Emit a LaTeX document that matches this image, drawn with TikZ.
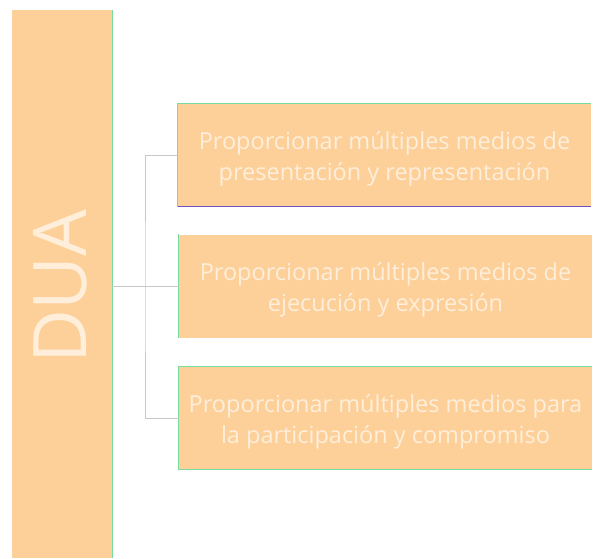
\documentclass[tikz,border=0pt]{standalone}
\usepackage{fontspec}
\setmainfont{Open Sans}
\definecolor{boxfill}{RGB}{253,208,154}
\definecolor{boxtext}{RGB}{254,238,218}
\definecolor{edgegreen}{RGB}{120,220,160}
\definecolor{edgepurple}{RGB}{110,80,200}
\definecolor{conn}{RGB}{200,200,200}
\tikzset{
  leaf/.style={draw=none, fill=boxfill, minimum width=413pt, minimum height=103pt, inner sep=0pt},
  leaftext/.style={inner sep=0pt, align=center, text=boxtext, font=\fontsize{23.5}{31}\selectfont},
  connline/.style={draw=conn, line width=1pt},
}
\begin{document}
\begin{tikzpicture}[x=1pt,y=-1pt]
\useasboundingbox (0,0) rectangle (594,558);
% DUA bar
\node[fill=boxfill, minimum width=100pt, minimum height=548pt, inner sep=0pt, anchor=north west] (dua) at (12,10) {};
\node[rotate=90, text=boxtext, font=\fontsize{74}{74}\selectfont] (duat) at (60,287) {DUA};
\draw[edgegreen, line width=1.3pt] (dua.north east) -- (dua.south east);
% leaves
\node[leaf] (b1) at (384.5,155) {};
\node[leaf] (b2) at (385.5,286) {};
\node[leaf] (b3) at (385.5,418) {};
\node[leaftext] (t1) at ([yshift=-4pt]b1.center) {Proporcionar múltiples medios de\\presentación y representación};
\node[leaftext] (t2) at ([yshift=-4pt]b2.center) {Proporcionar múltiples medios de\\ejecución y expresión};
\node[leaftext] (t3) at ([yshift=-4pt]b3.center) {Proporcionar múltiples medios para\\la participación y compromiso};
\draw[edgegreen, line width=1pt] (b1.south west) -- (b1.north west) -- (b1.north east);
\draw[edgepurple, line width=1.2pt] (b1.south west) -- (b1.south east);
\draw[edgegreen, line width=1pt] (b2.south west) -- (b2.north west);
\draw[edgegreen, line width=1pt] (b3.south east) -- (b3.south west) -- (b3.north west) -- (b3.north east);
% connectors
\coordinate (jn) at (145,286);
\draw[connline] (dua.east |- b2.west) -- (b2.west);
\draw[connline] (b1.west) -| (jn) |- (b3.west);
\end{tikzpicture}
\end{document}
